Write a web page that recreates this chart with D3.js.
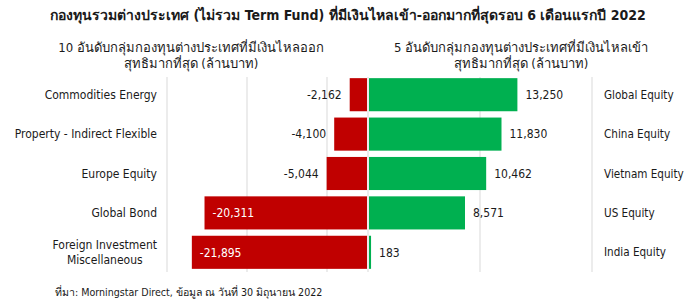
<!DOCTYPE html>
<html>
<head>
<meta charset="utf-8">
<script src="https://cdn.jsdelivr.net/npm/d3@7"></script>
<style>
  html, body { margin: 0; padding: 0; background: #fff; }
  svg { display: block; font-family: "DejaVu Sans Condensed", "DejaVu Sans", sans-serif; }
</style>
</head>
<body>
<div id="chart"></div>
<script>
// outflow side (left) and inflow side (right), in million baht
const outCats = ["Commodities Energy", "Property - Indirect Flexible", "Europe Equity", "Global Bond", "Foreign Investment\nMiscellaneous"];
const outVals = [-2162, -4100, -5044, -20311, -21895];
const inCats = ["Global Equity", "China Equity", "Vietnam Equity", "US Equity", "India Equity"];
const inVals = [13250, 11830, 10462, 8571, 183];
const outTicks = [-25000, -15000, -5000];
const inTicks = [0, 10000, 20000];

const title = "กองทุนรวมต่างประเทศ (ไม่รวม Term Fund) ที่มีเงินไหลเข้า-ออกมากที่สุดรอบ 6 เดือนแรกปี 2022";
const outTitle = ["10 อันดับกลุ่มกองทุนต่างประเทศที่มีเงินไหลออก", "สุทธิมากที่สุด (ล้านบาท)"];
const inTitle = ["5 อันดับกลุ่มกองทุนต่างประเทศที่มีเงินไหลเข้า", "สุทธิมากที่สุด (ล้านบาท)"];
const source = "ที่มา: Morningstar Direct, ข้อมูล ณ วันที่ 30 มิถุนายน 2022";

const W = 698, H = 307;
const RED = "#c00000", GREEN = "#00b050", GRID = "#d9d9d9", INK = "#1a1a1a";
// plain hyphen for negatives, like the original
const fmt = (v) => d3.format(",")(v).replace("\u2212", "-");

const svg = d3.select("#chart").append("svg")
  .attr("width", W).attr("height", H)
  .attr("viewBox", `0 0 ${W} ${H}`);

const plotTop = 75, plotBottom = 272;
const y = d3.scaleBand().domain(d3.range(5))
  .range([plotTop, plotBottom]).paddingInner(0.16).paddingOuter(0.08);
const xl = d3.scaleLinear().domain([-25000, 0]).range([167, 367]);
const xr = d3.scaleLinear().domain([0, 20000]).range([368, 592]);

// gridlines
svg.append("g").selectAll("line").data(outTicks).join("line")
  .attr("x1", (d) => xl(d)).attr("x2", (d) => xl(d))
  .attr("y1", plotTop + 2).attr("y2", plotBottom)
  .attr("stroke", GRID);
svg.append("g").selectAll("line").data(inTicks).join("line")
  .attr("x1", (d) => xr(d)).attr("x2", (d) => xr(d))
  .attr("y1", plotTop + 2).attr("y2", plotBottom)
  .attr("stroke", GRID);

// outflow bars
svg.append("g").selectAll("rect").data(outVals).join("rect")
  .attr("x", (d) => xl(d))
  .attr("width", (d) => xl(0) - xl(d))
  .attr("y", (d, i) => y(i))
  .attr("height", y.bandwidth())
  .attr("fill", RED);

// inflow bars
svg.append("g").selectAll("rect").data(inVals).join("rect")
  .attr("x", xr(0) + 1)
  .attr("width", (d) => xr(d) - xr(0))
  .attr("y", (d, i) => y(i))
  .attr("height", y.bandwidth())
  .attr("fill", GREEN);

const mid = (i) => y(i) + y.bandwidth() / 2;

// outflow value labels: inside (white) for long bars, outside otherwise
svg.append("g").selectAll("text").data(outVals).join("text")
  .attr("x", (d) => d < -10000 ? xl(d) + 8 : xl(d) - 8)
  .attr("y", (d, i) => mid(i))
  .attr("dy", "0.35em")
  .attr("text-anchor", (d) => d < -10000 ? "start" : "end")
  .attr("fill", (d) => d < -10000 ? "#fff" : INK)
  .style("font-size", "12px")
  .text((d) => fmt(d));

svg.append("g").selectAll("text").data(inVals).join("text")
  .attr("x", (d) => xr(d) + 9)
  .attr("y", (d, i) => mid(i))
  .attr("dy", "0.35em")
  .attr("fill", INK)
  .style("font-size", "12px")
  .text((d) => fmt(d));

// category labels
const lc = svg.append("g").selectAll("text").data(outCats).join("text")
  .attr("y", (d, i) => mid(i))
  .attr("fill", INK)
  .style("font-size", "12px");
lc.each(function (d, i) {
  const lines = d.split("\n");
  const t = d3.select(this);
  if (lines.length === 1) {
    t.attr("x", 157).attr("dy", "0.35em").attr("text-anchor", "end").text(d);
  } else {
    // multi-line block: right-aligned block, lines centered inside it
    t.attr("text-anchor", "middle");
    const spans = lines.map((s, k) => t.append("tspan")
      .attr("x", 0).attr("y", mid(i) + (k - (lines.length - 1) / 2) * 15)
      .attr("dy", "0.35em").text(s));
    const wmax = d3.max(spans, (s) => s.node().getComputedTextLength());
    spans.forEach((s) => s.attr("x", 157 - wmax / 2));
  }
});

svg.append("g").selectAll("text").data(inCats).join("text")
  .attr("x", 604)
  .attr("y", (d, i) => mid(i))
  .attr("dy", "0.35em")
  .attr("fill", INK)
  .style("font-size", "11.6px")
  .text((d) => d);

// titles
svg.append("text")
  .attr("x", 348).attr("y", 15).attr("dy", "0.35em")
  .attr("text-anchor", "middle").attr("fill", INK)
  .style("font-size", "14px").style("font-weight", "bold")
  .text(title);

svg.append("g").selectAll("text").data(outTitle).join("text")
  .attr("x", 191).attr("y", (d, k) => 47 + k * 16).attr("dy", "0.35em")
  .attr("text-anchor", "middle").attr("fill", INK)
  .style("font-size", "13px")
  .text((d) => d);

svg.append("g").selectAll("text").data(inTitle).join("text")
  .attr("x", 521).attr("y", (d, k) => 47 + k * 16).attr("dy", "0.35em")
  .attr("text-anchor", "middle").attr("fill", INK)
  .style("font-size", "13px")
  .text((d) => d);

svg.append("text")
  .attr("x", 55).attr("y", 292).attr("dy", "0.35em")
  .attr("fill", INK)
  .style("font-size", "10.6px")
  .text(source);
</script>
</body>
</html>
